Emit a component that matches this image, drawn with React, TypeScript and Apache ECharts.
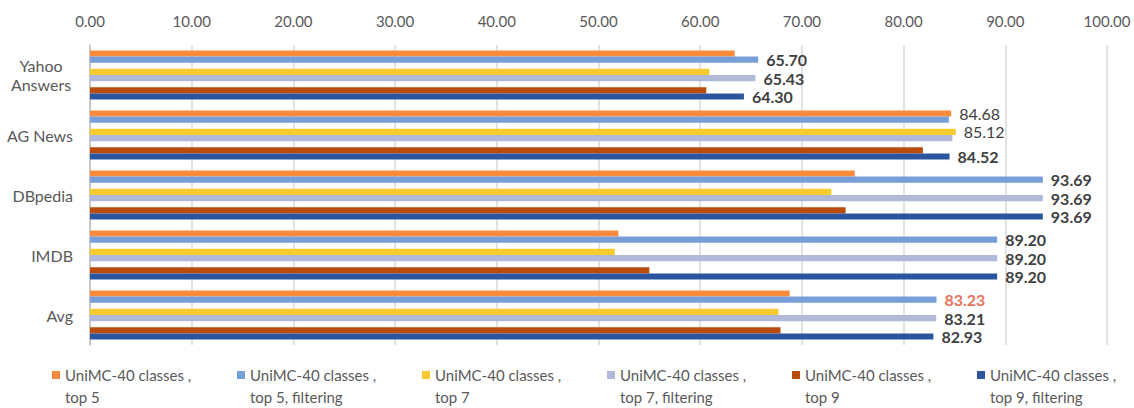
import React, { useEffect, useRef } from "react";
import * as echarts from "echarts";

const categories = ["Yahoo\nAnswers", "AG News", "DBpedia", "IMDB", "Avg"];
const seriesNames = [
  "UniMC-40 classes ,\ntop 5",
  "UniMC-40 classes ,\ntop 5, filtering",
  "UniMC-40 classes ,\ntop 7",
  "UniMC-40 classes ,\ntop 7, filtering",
  "UniMC-40 classes ,\ntop 9",
  "UniMC-40 classes ,\ntop 9, filtering",
];
const colors = ["#FA8B3C", "#789ED9", "#F5CB2E", "#AFBADA", "#B94C0A", "#2B569F"];
const top5 = [63.4, 84.68, 75.2, 51.95, 68.8];
const top5Filtering = [65.7, 84.45, 93.69, 89.2, 83.23];
const top7 = [60.9, 85.12, 72.9, 51.6, 67.7];
const top7Filtering = [65.43, 84.8, 93.69, 89.2, 83.21];
const top9 = [60.6, 81.9, 74.3, 55.0, 67.9];
const top9Filtering = [64.3, 84.52, 93.69, 89.2, 82.93];
// label kind per bar: "" none, "b" bold, "n" normal, "r" red bold
const top5Labels = ["", "n", "", "", ""];
const top5FilteringLabels = ["b", "", "b", "b", "r"];
const top7Labels = ["", "n", "", "", ""];
const top7FilteringLabels = ["b", "", "b", "b", "b"];
const top9Labels = ["", "", "", "", ""];
const top9FilteringLabels = ["b", "b", "b", "b", "b"];
const xTicks = { min: 0, max: 100, interval: 10 };

const FONT = "Lato, 'Noto Sans', sans-serif";

export default function App() {
  const ref = useRef<HTMLDivElement>(null);
  useEffect(() => {
    if (!ref.current) return;
    const chart = echarts.init(ref.current, undefined, { renderer: "svg" });
    const values = [top5, top5Filtering, top7, top7Filtering, top9, top9Filtering];
    const labels = [top5Labels, top5FilteringLabels, top7Labels, top7FilteringLabels, top9Labels, top9FilteringLabels];
    const mkData = (vals: number[], kinds: string[]) =>
      vals.map((v, i) => {
        const k = kinds[i];
        if (!k) return { value: v, label: { show: false } };
        return {
          value: v,
          label: {
            show: true,
            position: "right",
            distance: 8,
            formatter: (p: any) => Number(p.value).toFixed(2),
            fontFamily: FONT,
            fontSize: 16,
            fontWeight: k === "n" ? "normal" : "bold",
            color: k === "r" ? "#E5735D" : "#404040",
          },
        };
      });
    const series: any[] = [];
    for (let s = 0; s < 6; s++) {
      series.push({
        type: "bar",
        name: seriesNames[s],
        data: mkData(values[s], labels[s]),
        itemStyle: { color: colors[s] },
        barGap: "0%",
        barCategoryGap: "18%",
      });
      if (s === 1 || s === 3) {
        series.push({
          type: "bar",
          name: "gap" + s,
          data: categories.map(() => null),
          barGap: "0%",
          barCategoryGap: "18%",
        });
      }
    }
    chart.setOption({
      animation: false,
      grid: { left: 90, right: 27, top: 45, bottom: 63 },
      xAxis: {
        type: "value",
        position: "top",
        min: xTicks.min,
        max: xTicks.max,
        interval: xTicks.interval,
        axisLine: { show: false },
        axisTick: { show: false },
        axisLabel: {
          formatter: (v: number) => v.toFixed(2),
          color: "#595959",
          fontFamily: FONT,
          fontSize: 15,
          margin: 17,
        },
        splitLine: { lineStyle: { color: "#D9D9D9", width: 1.5 } },
      },
      yAxis: {
        type: "category",
        data: categories,
        inverse: true,
        axisLine: { show: true, lineStyle: { color: "#BFBFBF", width: 1.5 } },
        axisTick: { show: false },
        axisLabel: {
          color: "#595959",
          fontFamily: FONT,
          fontSize: 16,
          margin: 17,
          lineHeight: 19,
          formatter: (v: string) =>
            v.includes("\n") ? v.split("\n").map((l) => `{c|${l}}`).join("\n") : v,
          rich: {
            c: { width: 64, align: "center", color: "#595959", fontFamily: FONT, fontSize: 16, lineHeight: 19 },
          },
        },
      },
      legend: {
        data: seriesNames,
        left: 47,
        top: 337,
        itemWidth: 8,
        itemHeight: 8,
        itemGap: 37,
        icon: "rect",
        formatter: (name: string) => "\n" + name,
        textStyle: {
          color: "#595959",
          fontFamily: FONT,
          fontSize: 15,
          lineHeight: 22,
          width: 135,
        },
      },
      series,
    });
    return () => chart.dispose();
  }, []);
  return (
    <div
      ref={ref}
      style={{ position: "absolute", left: 0, top: 0, width: 1134, height: 408 }}
    />
  );
}
